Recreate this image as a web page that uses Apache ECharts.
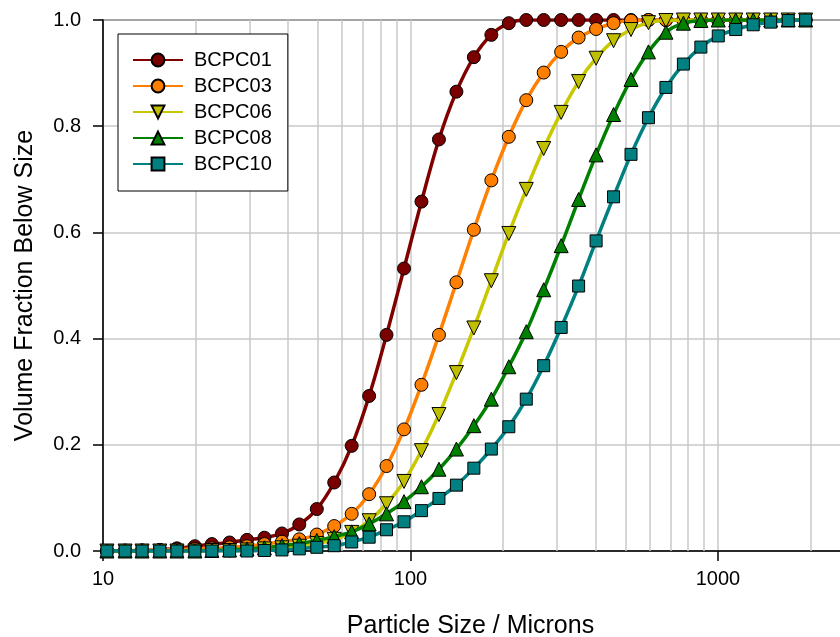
<!DOCTYPE html>
<html>
<head>
<meta charset="utf-8">
<script src="https://cdn.jsdelivr.net/npm/echarts@6/dist/echarts.min.js"></script>
<style>
  html, body { margin: 0; padding: 0; background: #ffffff; }
  #chart { width: 840px; height: 637px; }
</style>
</head>
<body>
<div id="chart"></div>
<script>
// Particle sizes (microns) of the measured size classes
const sizes = [10.3, 11.8, 13.4, 15.3, 17.4, 19.9, 22.6, 25.8, 29.4, 33.5,
  38.2, 43.5, 49.6, 56.5, 64.4, 73.4, 83.6, 95.3, 108.6, 123.8,
  141.1, 160.8, 183.3, 208.9, 238.1, 271.3, 309.2, 352.4, 401.7, 457.8,
  521.8, 594.6, 677.7, 772.4, 880.3, 1003, 1143, 1303, 1485, 1693, 1929];

const seriesNames = ['BCPC01', 'BCPC03', 'BCPC06', 'BCPC08', 'BCPC10'];

const bcpc01 = [0, 0, 0.001, 0.002, 0.005, 0.009, 0.013, 0.016, 0.021, 0.025,
  0.033, 0.050, 0.079, 0.129, 0.198, 0.292, 0.407, 0.532, 0.658, 0.775,
  0.865, 0.930, 0.972, 0.994, 1, 1, 1, 1, 1, 1,
  1, 1, 1, 1, 1, 1, 1, 1, 1, 1, 1];

const bcpc03 = [0, 0.001, 0.001, 0.002, 0.003, 0.004, 0.005, 0.007, 0.009, 0.013,
  0.0175, 0.022, 0.031, 0.047, 0.070, 0.107, 0.160, 0.229, 0.313, 0.407,
  0.506, 0.605, 0.698, 0.780, 0.849, 0.901, 0.940, 0.967, 0.983, 0.994,
  0.999, 1, 1, 1, 1, 1, 1, 1, 1, 1, 1];

const bcpc06 = [0, 0, 0, 0, 0, 0, 0.001, 0.001, 0.002, 0.004,
  0.006, 0.009, 0.014, 0.022, 0.035, 0.057, 0.089, 0.131, 0.189, 0.257,
  0.336, 0.420, 0.509, 0.598, 0.681, 0.758, 0.826, 0.884, 0.928, 0.961,
  0.982, 0.995, 0.999, 1, 1, 1, 1, 1, 1, 1, 1];

const bcpc08 = [0, 0, 0, 0, 0, 0, 0.001, 0.002, 0.004, 0.006,
  0.010, 0.014, 0.020, 0.027, 0.036, 0.051, 0.070, 0.093, 0.121, 0.154,
  0.192, 0.236, 0.286, 0.347, 0.413, 0.492, 0.575, 0.662, 0.746, 0.822,
  0.888, 0.940, 0.977, 0.994, 0.999, 1, 1, 1, 1, 1, 1];

const bcpc10 = [0, 0, 0, 0, 0, 0, 0, 0, 0, 0.001,
  0.002, 0.004, 0.007, 0.010, 0.017, 0.026, 0.040, 0.055, 0.076, 0.099,
  0.124, 0.156, 0.192, 0.234, 0.286, 0.349, 0.421, 0.499, 0.584, 0.667,
  0.747, 0.816, 0.873, 0.917, 0.949, 0.970, 0.982, 0.991, 0.996, 0.999, 1];

// Axis ticks / gridlines
const xMajorTicks = [10, 100, 1000];
const xMinorGrid = [20, 30, 40, 50, 60, 70, 80, 90, 200, 300, 400, 500, 600, 700, 800, 900, 2000];
const yTicks = [0, 0.2, 0.4, 0.6, 0.8, 1.0];

const seriesValues = [bcpc01, bcpc03, bcpc06, bcpc08, bcpc10];
const lineColors = ['#800000', '#ff8000', '#c8c800', '#008000', '#008080'];
const fillColors = ['#7a0000', '#ff8000', '#bfbf00', '#008000', '#008080'];
const symbols = ['circle', 'circle', 'triangle', 'triangle', 'rect'];
const symbolRot = [0, 0, 180, 0, 0];
const symbolSizes = [13, 13, 14, 14, 12];

const FONT = 'Liberation Sans, Arial, Helvetica, sans-serif';

const chart = echarts.init(document.getElementById('chart'), null, { renderer: 'canvas' });

const series = seriesNames.map((name, i) => ({
  name: name,
  type: 'line',
  data: sizes.map((s, k) => [s, seriesValues[i][k]]),
  smooth: 0.35,
  symbol: symbols[i],
  symbolRotate: symbolRot[i],
  symbolSize: symbolSizes[i],
  showAllSymbol: true,
  lineStyle: { color: lineColors[i], width: 3.5 },
  itemStyle: { color: fillColors[i], borderColor: '#000000', borderWidth: 1 },
  emphasis: { disabled: true },
  z: 3 + i
}));

// gridlines at minor decade positions
series.unshift({
  name: '__grid',
  type: 'line',
  data: [],
  silent: true,
  z: 1,
  markLine: {
    silent: true,
    z: 1,
    symbol: ['none', 'none'],
    label: { show: false },
    lineStyle: { color: '#c8c8c8', width: 1.5, type: 'solid' },
    emphasis: { disabled: true },
    data: xMinorGrid.map(v => ({ xAxis: v }))
  }
});

const option = {
  animation: false,
  backgroundColor: '#ffffff',
  textStyle: { fontFamily: FONT },
  grid: {
    left: 103, right: -10, top: 20, bottom: 86,
    outerBoundsMode: 'none',
    containLabel: false,
    show: true, borderColor: '#000000', borderWidth: 1.5, backgroundColor: 'transparent'
  },
  legend: {
    data: seriesNames,
    orient: 'vertical',
    left: 118, top: 34,
    backgroundColor: '#ffffff',
    borderColor: '#000000', borderWidth: 1,
    padding: [16, 16, 17, 14],
    itemWidth: 50, itemHeight: 16, itemGap: 6,
    textStyle: { fontFamily: FONT, fontSize: 20, color: '#000000', lineHeight: 20, padding: [0, 0, 0, 6] }
  },
  xAxis: {
    type: 'log',
    logBase: 10,
    min: 10,
    max: 2690,
    name: 'Particle Size / Microns',
    nameLocation: 'middle',
    nameGap: 63,
    nameTextStyle: { fontFamily: FONT, fontSize: 25, color: '#000000', padding: [0, 12, 0, 0] },
    axisLine: { show: true, lineStyle: { color: '#000000', width: 1.5 } },
    axisTick: { show: true, inside: false, length: 10, lineStyle: { color: '#000000', width: 1.5 } },
    axisLabel: {
      fontFamily: FONT, fontSize: 20, color: '#000000', margin: 18,
      formatter: function (v) {
        for (const t of xMajorTicks) { if (Math.abs(v - t) < 1e-6 * t) return String(t); }
        return '';
      }
    },
    splitLine: { show: true, lineStyle: { color: '#c8c8c8', width: 1.5 } },
    minorTick: { show: false },
    minorSplitLine: { show: false }
  },
  yAxis: {
    type: 'value',
    min: yTicks[0],
    max: yTicks[yTicks.length - 1],
    interval: 0.2,
    name: 'Volume Fraction Below Size',
    nameLocation: 'middle',
    nameGap: 65,
    nameTextStyle: { fontFamily: FONT, fontSize: 25, color: '#000000' },
    axisLine: { show: true, lineStyle: { color: '#000000', width: 1.5 } },
    axisTick: { show: true, inside: false, length: 10, lineStyle: { color: '#000000', width: 1.5 } },
    axisLabel: {
      fontFamily: FONT, fontSize: 20, color: '#000000', margin: 22,
      formatter: v => v.toFixed(1)
    },
    splitLine: { show: true, lineStyle: { color: '#c8c8c8', width: 1.5 } }
  },
  series: series
};

chart.setOption(option);
</script>
</body>
</html>
